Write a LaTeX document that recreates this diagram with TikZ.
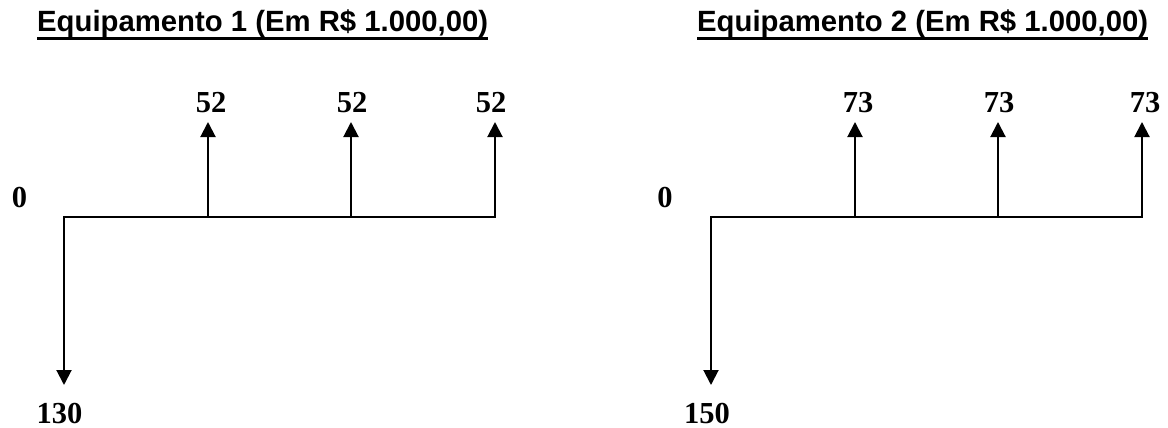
\documentclass[tikz,border=0pt]{standalone}
\usepackage{fontspec}
\setmainfont{Liberation Serif}
\setsansfont{Liberation Sans}
\usetikzlibrary{arrows.meta}
\begin{document}
\begin{tikzpicture}[x=1pt,y=-1pt,
  flow/.style={line width=2pt,line cap=rect,-{Triangle[length=15pt,width=15pt]}},
  axis/.style={line width=2pt,line cap=rect},
  val/.style={font=\fontsize{30.5}{30.5}\selectfont\bfseries, inner sep=0pt, anchor=base},
  ttl/.style={font=\fontsize{29.3}{29.3}\selectfont\sffamily\bfseries, inner sep=0pt, anchor=base west},
  uline/.style={line width=2.2pt}]
\useasboundingbox (0,0) rectangle (1168,428);

% ---------- Equipamento 1 ----------
\node[ttl] (t1) at (37,32) {Equipamento 1 (Em R\$ 1.000,00)};
\draw[uline] ([yshift=-6.5pt]t1.base west) -- ([yshift=-6.5pt]t1.base east);

\coordinate (a0) at (64,217);
\coordinate (a1) at (208,217);
\coordinate (a2) at (351,217);
\coordinate (a3) at (495,217);
\coordinate (u1) at (208,122);
\coordinate (u2) at (351,122);
\coordinate (u3) at (495,122);
\coordinate (d0) at (64,385);

\node[val] (z1) at (19.5,207) {0};
\node[val] (v11) at (211,113) {52};
\node[val] (v12) at (352,113) {52};
\node[val] (v13) at (491,113) {52};
\node[val] (n1) at (59.5,423) {130};

\draw[axis] (a0) -- (a3);
\draw[flow] (a0) -- (d0);
\draw[flow] (a1) -- (u1);
\draw[flow] (a2) -- (u2);
\draw[flow] (a3) -- (u3);

% ---------- Equipamento 2 ----------
\node[ttl] (t2) at (697,32) {Equipamento 2 (Em R\$ 1.000,00)};
\draw[uline] ([yshift=-6.5pt]t2.base west) -- ([yshift=-6.5pt]t2.base east);

\coordinate (b0) at (711,217);
\coordinate (b1) at (855,217);
\coordinate (b2) at (998,217);
\coordinate (b3) at (1142,217);
\coordinate (w1) at (855,122);
\coordinate (w2) at (998,122);
\coordinate (w3) at (1142,122);
\coordinate (e0) at (711,385);

\node[val] (z2) at (665,207) {0};
\node[val] (v21) at (858,113) {73};
\node[val] (v22) at (999,113) {73};
\node[val] (v23) at (1145,113) {73};
\node[val] (n2) at (707,423) {150};

\draw[axis] (b0) -- (b3);
\draw[flow] (b0) -- (e0);
\draw[flow] (b1) -- (w1);
\draw[flow] (b2) -- (w2);
\draw[flow] (b3) -- (w3);
\end{tikzpicture}
\end{document}
